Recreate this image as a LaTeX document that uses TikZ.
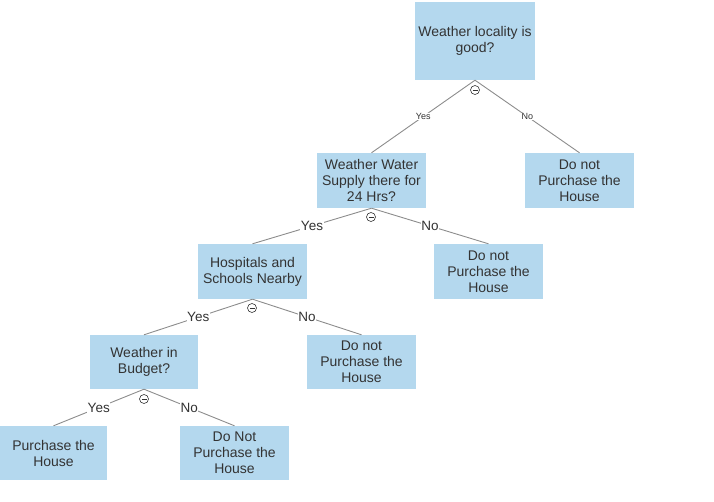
\documentclass[tikz,border=0pt]{standalone}
\usepackage{fontspec}
\setmainfont{Liberation Sans}
\definecolor{boxc}{HTML}{B4D8EE}
\definecolor{txt}{HTML}{333333}
\definecolor{edg}{HTML}{8C8C8C}
\begin{document}
\begin{tikzpicture}[x=1pt,y=-1pt,
  box/.style={fill=boxc,text=txt,align=center,font=\fontsize{14}{16}\selectfont,inner sep=0pt},
  lab/.style={fill=white,text=txt,inner sep=0.5pt,font=\fontsize{13.5}{15}\selectfont},
  slab/.style={fill=white,text=txt,inner sep=0.5pt,font=\fontsize{9}{10}\selectfont},
  edge/.style={draw=edg,line width=0.9pt},
  tog/.style={circle,draw=txt,line width=0.6pt,fill=white,minimum size=9pt,inner sep=0pt,path picture={\draw[txt,line width=0.6pt] ([xshift=-2.5pt]path picture bounding box.center)--([xshift=2.5pt]path picture bounding box.center);}}]
\useasboundingbox (0,0) rectangle (714,502);
\node[box,minimum width=120,minimum height=78] (A) at (475,41) {Weather locality is\\good?};
\node[box,minimum width=109,minimum height=55] (B) at (371.5,180.5) {Weather Water\\Supply there for\\24 Hrs?};
\node[box,minimum width=109,minimum height=55] (C) at (579.5,180.5) {Do not\\Purchase the\\House};
\node[box,minimum width=109,minimum height=55] (D) at (252.5,271.5) {Hospitals and\\Schools Nearby};
\node[box,minimum width=109,minimum height=55] (E) at (488.5,271.5) {Do not\\Purchase the\\House};
\node[box,minimum width=108,minimum height=54] (F) at (144,362) {Weather in\\Budget?};
\node[box,minimum width=109,minimum height=54] (G) at (361.5,362) {Do not\\Purchase the\\House};
\node[box,minimum width=107,minimum height=54] (H) at (53.5,453) {Purchase the\\House};
\node[box,minimum width=109,minimum height=54] (I) at (234.5,453) {Do Not\\Purchase the\\House};
\draw[edge] (A.south) -- node[slab,pos=0.5] {Yes} (B.north);
\draw[edge] (A.south) -- node[slab,pos=0.5] {No} (C.north);
\draw[edge] (B.south) -- node[lab,pos=0.5] {Yes} (D.north);
\draw[edge] (B.south) -- node[lab,pos=0.5] {No} (E.north);
\draw[edge] (D.south) -- node[lab,pos=0.5] {Yes} (F.north);
\draw[edge] (D.south) -- node[lab,pos=0.5] {No} (G.north);
\draw[edge] (F.south) -- node[lab,pos=0.5] {Yes} (H.north);
\draw[edge] (F.south) -- node[lab,pos=0.5] {No} (I.north);
\node[tog] (tA) at (475,90) {};
\node[tog] (tB) at (371,217) {};
\node[tog] (tD) at (252,308) {};
\node[tog] (tF) at (144,399) {};
\end{tikzpicture}
\end{document}
